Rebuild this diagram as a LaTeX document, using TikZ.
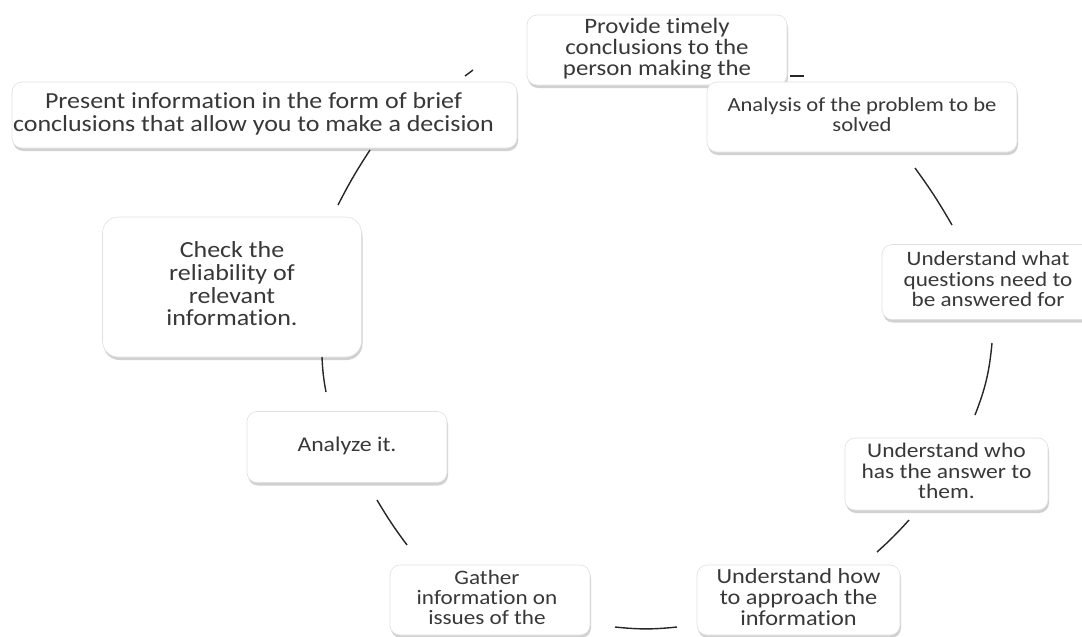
\documentclass[tikz,border=0pt]{standalone}
\usepackage{fontspec}
\setmainfont{Carlito}[Ligatures=NoCommon]
\usepackage{graphicx}
\usetikzlibrary{shadows}
\definecolor{txt}{HTML}{383838}
\newcommand{\tb}[3]{{\fontsize{#1}{#2}\selectfont\scalebox{1.13}[1]{\begin{tabular}{@{}c@{}}#3\end{tabular}}}}
\begin{document}
\begin{tikzpicture}[x=1pt,y=-1pt,
  box/.style={draw=black!12, line width=0.6pt, fill=white, rounded corners=10pt, text=txt, inner sep=0pt,
    drop shadow={shadow xshift=1pt, shadow yshift=-3pt, opacity=0.3, fill=black!60}},
  link/.style={line width=1.4pt, draw=black!85}]
\useasboundingbox (0,0) rectangle (1082,637);
\clip (0,0) rectangle (1082,637);
\node[box, minimum width=260pt, minimum height=70pt] (prov) at (657,50) {\tb{22}{19.5}{Provide timely\\conclusions to the\\person making the}};
\node[box, minimum width=505pt, minimum height=66pt] (pres) at (264.5,115) {\hspace*{-22pt}\tb{23}{23}{Present information in the form of brief\\conclusions that allow you to make a decision}};
\node[box, minimum width=310pt, minimum height=70pt] (anal) at (862,117) {\tb{20}{20}{Analysis of the problem to be\\solved}};
\node[box, minimum width=212pt, minimum height=75pt] (uwhat) at (988,282) {\tb{20.5}{20}{Understand what\\questions need to\\be answered for}};
\node[box, minimum width=259pt, minimum height=140pt, rounded corners=16pt] (check) at (232,287) {\tb{23}{22}{Check the\\reliability of\\relevant\\information.}};
\node[box, minimum width=200pt, minimum height=71pt] (analyze) at (347,447) {\tb{21}{20}{Analyze it.}};
\node[box, minimum width=203pt, minimum height=72pt] (uwho) at (946.5,474) {\tb{20.8}{20}{Understand who\\has the answer to\\them.}};
\node[box, minimum width=200pt, minimum height=70pt] (gather) at (490,600) {\hspace*{-6pt}\tb{20.5}{19.5}{Gather\\information on\\issues of the}};
\node[box, minimum width=203pt, minimum height=70pt] (uhow) at (798.5,600) {\tb{21.5}{19.5}{Understand how\\to approach the\\information}};
\coordinate (c1a) at (465,76); \coordinate (c1b) at (473,70);
\coordinate (c2a) at (790,76); \coordinate (c2b) at (804,76);
\coordinate (c3a) at (915,168); \coordinate (c3b) at (952,225);
\coordinate (c4a) at (992,343); \coordinate (c4b) at (975,415);
\coordinate (c5a) at (909,520); \coordinate (c5b) at (877,552);
\coordinate (c6a) at (677,627); \coordinate (c6b) at (615,627);
\coordinate (c7a) at (407,545); \coordinate (c7b) at (377,500);
\coordinate (c8a) at (326,392); \coordinate (c8b) at (322,357);
\coordinate (c9a) at (338,205); \coordinate (c9b) at (370,150);
\draw[link] (c1a) -- (c1b);
\draw[link] (c2a) -- (c2b);
\draw[link] (c3a) to[bend left=3] (c3b);
\draw[link] (c4a) to[bend left=8] (c4b);
\draw[link] (c5a) to[bend left=3] (c5b);
\draw[link] (c6a) to[bend left=6] (c6b);
\draw[link] (c7a) to[bend left=3] (c7b);
\draw[link] (c8a) to[bend left=4] (c8b);
\draw[link] (c9a) to[bend left=3] (c9b);
\end{tikzpicture}
\end{document}
